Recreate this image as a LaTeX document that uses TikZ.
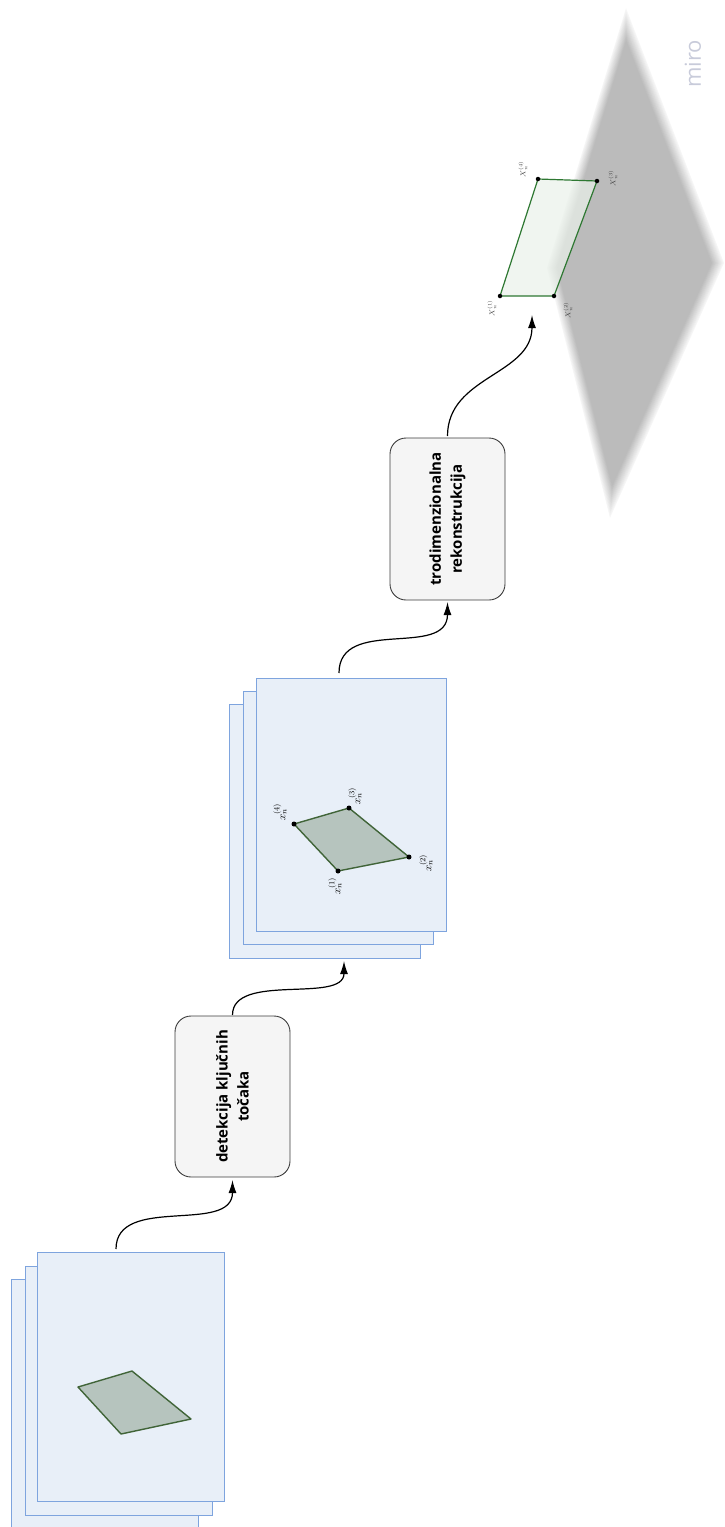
\documentclass[tikz,border=0pt]{standalone}
\usepackage{fontspec}
\setmainfont{Open Sans}
\usetikzlibrary{arrows.meta,calc}
\definecolor{sheetfill}{RGB}{232,239,248}
\definecolor{sheetdraw}{RGB}{126,164,222}
\definecolor{quadfill}{RGB}{182,196,190}
\definecolor{quaddraw}{RGB}{64,100,56}
\definecolor{boxfill}{RGB}{245,245,245}
\definecolor{boxdraw}{RGB}{60,60,60}
\definecolor{planefill}{RGB}{234,241,234}
\definecolor{planedraw}{RGB}{46,120,50}
\definecolor{mirocol}{RGB}{200,203,218}
\begin{document}
\begin{tikzpicture}[x=1pt,y=-1pt,
  sheet/.style={draw=sheetdraw, fill=sheetfill, line width=1pt, inner sep=0pt, outer sep=0pt},
  stepbox/.style={draw=boxdraw, fill=boxfill, line width=0.9pt, rounded corners=16pt, rotate=90,
     inner sep=0pt, outer sep=0pt, align=center, font=\fontsize{15}{21}\selectfont\bfseries},
  conn/.style={draw=black, line width=1.2pt, -{Latex[length=13pt,width=8pt]}},
  quad/.style={draw=quaddraw, fill=quadfill, line width=1.4pt, line join=round},
  plane/.style={draw=planedraw, fill=planefill, fill opacity=0.72, line width=1.2pt, line join=round},
  dot/.style={circle, fill=black, inner sep=0pt, minimum size=5pt},
  lab/.style={rotate=90, inner sep=0pt, font=\fontsize{11}{13}\selectfont},
  slab/.style={rotate=90, inner sep=0pt, font=\fontsize{7.5}{8}\selectfont, text=black!75}]
\useasboundingbox (0,0) rectangle (725,1527);

% ---- gray plane (blurred diamond)
\foreach \i in {0,...,14}{
  \pgfmathsetmacro{\s}{1-0.009*\i}
  \pgfmathsetmacro{\c}{3+1.7*\i}
  \begin{scope}[shift={(627,264)}, scale=\s]
    \fill[black!\c] (-1,-256) -- (97,-1) -- (-17,254) -- (-80,4) -- cycle;
  \end{scope}
}

% ---- input stack
\node[sheet, minimum width=187pt, minimum height=249pt] (s1c) at (104.5,1403.5) {};
\node[sheet, minimum width=187pt, minimum height=249pt] (s1b) at (118.5,1390.5) {};
\node[sheet, minimum width=187pt, minimum height=249pt] (s1a) at (130.5,1376.5) {};
\draw[quad] (78,1387) -- (132,1371) -- (191,1419) -- (121,1434) -- cycle;

% ---- box 1
\node[stepbox, minimum width=161pt, minimum height=115pt] (b1) at (232.5,1096.5)
  {detekcija ključnih\\točaka};

% ---- keypoint stack
\node[sheet, minimum width=191pt, minimum height=254pt] (s2c) at (324.5,831) {};
\node[sheet, minimum width=190pt, minimum height=253pt] (s2b) at (338,817.5) {};
\node[sheet, minimum width=190pt, minimum height=253pt] (s2a) at (351,804.5) {};
\coordinate (c1) at (338,871);
\coordinate (c2) at (409,857);
\coordinate (c3) at (349,808);
\coordinate (c4) at (294,824);
\draw[quad] (c1) -- (c2) -- (c3) -- (c4) -- cycle;
\node[dot] (p1) at (c1) {};
\node[dot] (p2) at (c2) {};
\node[dot] (p3) at (c3) {};
\node[dot] (p4) at (c4) {};
\node[lab] (l1) at (335,886) {$x_n^{(1)}$};
\node[lab] (l2) at (426,863) {$x_n^{(2)}$};
\node[lab] (l3) at (355,796) {$x_n^{(3)}$};
\node[lab] (l4) at (280,812) {$x_n^{(4)}$};

% ---- box 2
\node[stepbox, minimum width=162pt, minimum height=115pt] (b2) at (447.5,519)
  {trodimenzionalna\\rekonstrukcija};

% ---- 3D quad
\coordinate (C1) at (500,296);
\coordinate (C2) at (554,296);
\coordinate (C3) at (597,181);
\coordinate (C4) at (538,179);
\draw[plane] (C1) -- (C2) -- (C3) -- (C4) -- cycle;
\node[dot, minimum size=4.5pt] (P1) at (C1) {};
\node[dot, minimum size=4.5pt] (P2) at (C2) {};
\node[dot, minimum size=4.5pt] (P3) at (C3) {};
\node[dot, minimum size=4.5pt] (P4) at (C4) {};
\node[slab] (L1) at (492,308) {$X_n^{(1)}$};
\node[slab] (L2) at (568,310) {$X_n^{(2)}$};
\node[slab] (L3) at (613,178) {$X_n^{(3)}$};
\node[slab] (L4) at (523,169) {$X_n^{(4)}$};

% ---- connectors
\draw[conn] ([xshift=-14.5pt,yshift=3pt]s1a.north) .. controls +(0,-55) and +(0,55) .. ([yshift=-3pt]b1.west);
\draw[conn] ([yshift=1pt]b1.east) .. controls +(0,-43) and +(0,43) .. ([xshift=19.5pt,yshift=-3pt]s2c.south);
\draw[conn] ([xshift=-12pt,yshift=5pt]s2a.north) .. controls +(0,-57) and +(0,57) .. ([yshift=-2pt]b2.west);
\draw[conn] ([yshift=2pt]b2.east) .. controls +(0,-60) and +(0,60) .. ([xshift=32pt,yshift=-19pt]P1.center);

% ---- watermark
\node[rotate=90, text=mirocol, inner sep=0pt, font=\fontsize{22}{22}\selectfont] (miro) at (693,64) {miro};
\end{tikzpicture}
\end{document}
